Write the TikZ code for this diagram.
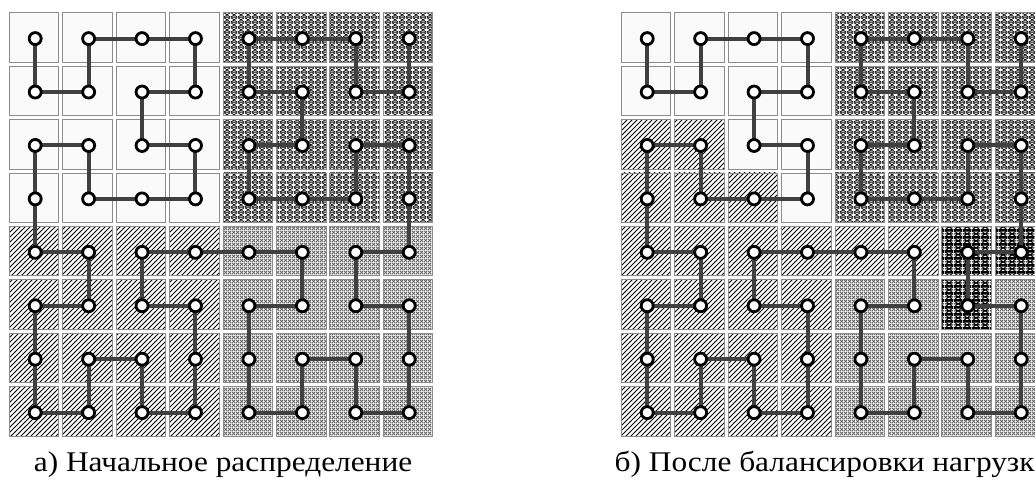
\documentclass[tikz,border=0pt]{standalone}
\usepackage{fontspec}
\setmainfont[FakeStretch=1.1]{Liberation Serif}
\usetikzlibrary{patterns}

\pgfdeclarelayer{cells}
\pgfdeclarelayer{curve}
\pgfsetlayers{cells,curve,main}

% diagonal hatching, lower left to upper right
\pgfdeclarepatternformonly{hatchne}{\pgfqpoint{-1pt}{-1pt}}{\pgfqpoint{6pt}{6pt}}{\pgfqpoint{5pt}{5pt}}{%
  \pgfsetlinewidth{0.8pt}%
  \pgfpathmoveto{\pgfqpoint{0pt}{0pt}}%
  \pgfpathlineto{\pgfqpoint{5.1pt}{5.1pt}}%
  \pgfusepath{stroke}}

% fine diagonal grid that reads as small white dots
\pgfdeclarepatternformonly{finedots}{\pgfqpoint{0pt}{0pt}}{\pgfqpoint{4pt}{4pt}}{\pgfqpoint{4pt}{4pt}}{%
  \pgfsetlinewidth{1.2pt}%
  \pgfpathmoveto{\pgfqpoint{0pt}{0pt}}\pgfpathlineto{\pgfqpoint{4pt}{4pt}}%
  \pgfpathmoveto{\pgfqpoint{0pt}{4pt}}\pgfpathlineto{\pgfqpoint{4pt}{0pt}}%
  \pgfusepath{stroke}}

% dark mesh: crossing diagonals with horizontal bars
\pgfdeclarepatternformonly{darkmesh}{\pgfqpoint{0pt}{0pt}}{\pgfqpoint{7pt}{5pt}}{\pgfqpoint{7pt}{5pt}}{%
  \pgfsetlinewidth{0.75pt}%
  \pgfpathmoveto{\pgfqpoint{0pt}{0pt}}\pgfpathlineto{\pgfqpoint{7pt}{5pt}}%
  \pgfpathmoveto{\pgfqpoint{0pt}{5pt}}\pgfpathlineto{\pgfqpoint{7pt}{0pt}}%
  \pgfusepath{stroke}%
  \pgfsetlinewidth{1.1pt}%
  \pgfpathmoveto{\pgfqpoint{0pt}{0pt}}\pgfpathlineto{\pgfqpoint{7pt}{0pt}}%
  \pgfpathmoveto{\pgfqpoint{0pt}{5pt}}\pgfpathlineto{\pgfqpoint{7pt}{5pt}}%
  \pgfusepath{stroke}}

% coarser variant of the dark mesh
\pgfdeclarepatternformonly{darkmeshb}{\pgfqpoint{0pt}{0pt}}{\pgfqpoint{9pt}{7pt}}{\pgfqpoint{9pt}{7pt}}{%
  \pgfsetlinewidth{1.0pt}%
  \pgfpathmoveto{\pgfqpoint{0pt}{0pt}}\pgfpathlineto{\pgfqpoint{9pt}{7pt}}%
  \pgfpathmoveto{\pgfqpoint{0pt}{7pt}}\pgfpathlineto{\pgfqpoint{9pt}{0pt}}%
  \pgfpathmoveto{\pgfqpoint{0pt}{3.5pt}}\pgfpathlineto{\pgfqpoint{9pt}{3.5pt}}%
  \pgfusepath{stroke}%
  \pgfsetlinewidth{1.8pt}%
  \pgfpathmoveto{\pgfqpoint{0pt}{0pt}}\pgfpathlineto{\pgfqpoint{9pt}{0pt}}%
  \pgfpathmoveto{\pgfqpoint{0pt}{7pt}}\pgfpathlineto{\pgfqpoint{9pt}{7pt}}%
  \pgfusepath{stroke}}

\tikzset{
  cellbox/.style={draw=black!45, line width=0.9pt},
  cplain/.style={cellbox, fill=black!2},
  chatch/.style={cellbox, preaction={fill=white}, pattern=hatchne, pattern color=black},
  cdots/.style={cellbox, preaction={fill=white}, pattern=finedots, pattern color=black!60},
  cmesh/.style={cellbox, preaction={fill=white}, pattern=darkmesh, pattern color=black},
  cmeshb/.style={cellbox, preaction={fill=white}, pattern=darkmeshb, pattern color=black},
  vertex/.style={circle, draw=black, line width=2.8pt, fill=white,
                 minimum size=12pt, inner sep=0pt},
  curve/.style={draw=black!75, line width=4pt},
  caption/.style={font=\fontsize{28.5}{32}\selectfont, anchor=base}
}

% one row of eight cells: grid origin x, row index, list of cell styles
\newcommand\cellrow[3]{%
  \foreach \s [count=\c from 0] in {#3}{%
    \path[\s] ({#1+\c*53.43},{12.7+#2*53.43}) rectangle ++(49.5,49.5);
  }}

% vertices at the cell centres: prefix, grid origin x
\newcommand\vertices[2]{%
  \foreach \c in {0,...,7}{\foreach \r in {0,...,7}{%
    \node[vertex] (#1\c-\r) at ({#2+\c*53.43+25.9},{12.7+\r*53.43+25.9}) {};
  }}}

% cell order along the Hilbert curve (column/row)
\def\hilbert{0/0,0/1,1/1,1/0,2/0,3/0,3/1,2/1,2/2,3/2,3/3,2/3,1/3,1/2,0/2,0/3,
  0/4,1/4,1/5,0/5,0/6,0/7,1/7,1/6,2/6,2/7,3/7,3/6,3/5,2/5,2/4,3/4,
  4/4,5/4,5/5,4/5,4/6,4/7,5/7,5/6,6/6,6/7,7/7,7/6,7/5,6/5,6/4,7/4,
  7/3,7/2,6/2,6/3,5/3,4/3,4/2,5/2,5/1,4/1,4/0,5/0,6/0,6/1,7/1,7/0}

\newcommand\hilbertcurve[1]{%
  \foreach \c/\r [remember=\c as \pc (initially 0), remember=\r as \pr (initially 0)] in \hilbert {%
    \draw[curve] (#1\pc-\pr.center) -- (#1\c-\r.center);
  }}

\begin{document}
\begin{tikzpicture}[x=1pt, y=-1pt]
\useasboundingbox (0,0) rectangle (1035,482);

\begin{pgfonlayer}{cells}
  % initial distribution
  \cellrow{9.3}{0}{cplain,cplain,cplain,cplain,cmesh,cmesh,cmesh,cmesh}
  \cellrow{9.3}{1}{cplain,cplain,cplain,cplain,cmesh,cmesh,cmesh,cmesh}
  \cellrow{9.3}{2}{cplain,cplain,cplain,cplain,cmesh,cmesh,cmesh,cmesh}
  \cellrow{9.3}{3}{cplain,cplain,cplain,cplain,cmesh,cmesh,cmesh,cmesh}
  \cellrow{9.3}{4}{chatch,chatch,chatch,chatch,cdots,cdots,cdots,cdots}
  \cellrow{9.3}{5}{chatch,chatch,chatch,chatch,cdots,cdots,cdots,cdots}
  \cellrow{9.3}{6}{chatch,chatch,chatch,chatch,cdots,cdots,cdots,cdots}
  \cellrow{9.3}{7}{chatch,chatch,chatch,chatch,cdots,cdots,cdots,cdots}
  % after load balancing
  \cellrow{621.3}{0}{cplain,cplain,cplain,cplain,cmesh,cmesh,cmesh,cmesh}
  \cellrow{621.3}{1}{cplain,cplain,cplain,cplain,cmesh,cmesh,cmesh,cmesh}
  \cellrow{621.3}{2}{chatch,chatch,cplain,cplain,cmesh,cmesh,cmesh,cmesh}
  \cellrow{621.3}{3}{chatch,chatch,chatch,cplain,cmesh,cmesh,cmesh,cmesh}
  \cellrow{621.3}{4}{chatch,chatch,chatch,chatch,chatch,chatch,cmeshb,cmeshb}
  \cellrow{621.3}{5}{chatch,chatch,chatch,chatch,cdots,cdots,cmeshb,cdots}
  \cellrow{621.3}{6}{chatch,chatch,chatch,chatch,cdots,cdots,cdots,cdots}
  \cellrow{621.3}{7}{chatch,chatch,chatch,chatch,cdots,cdots,cdots,cdots}
\end{pgfonlayer}

\vertices{L}{9.3}
\vertices{R}{621.3}

\begin{pgfonlayer}{curve}
  \hilbertcurve{L}
  \hilbertcurve{R}
\end{pgfonlayer}

\node[caption] (capL) at (223,471) {а) Начальное распределение};
\node[caption] (capR) at (833,471) {б) После балансировки нагрузки};
\end{tikzpicture}
\end{document}
